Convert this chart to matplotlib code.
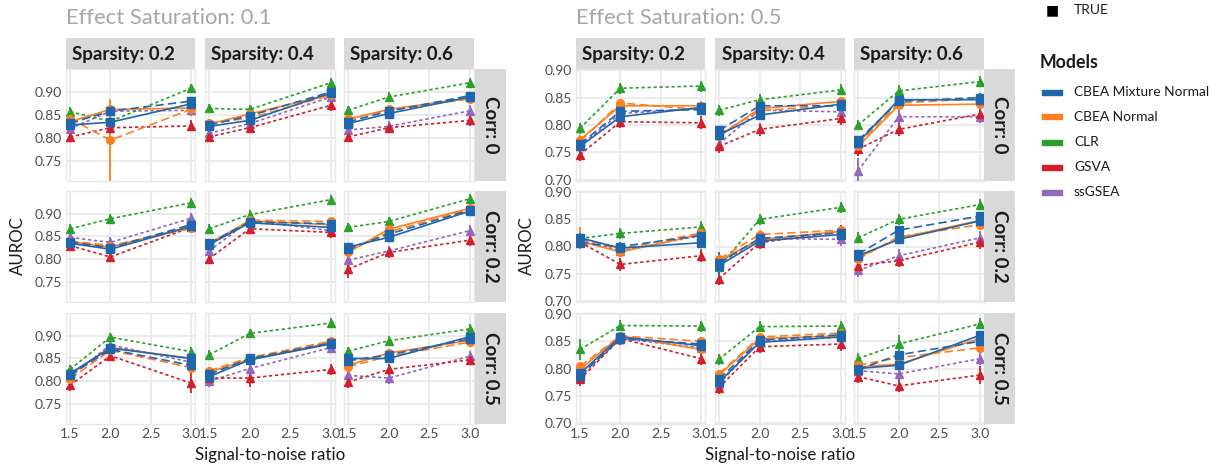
import numpy as np
import matplotlib
matplotlib.use("Agg")
import matplotlib.pyplot as plt

plt.rcParams['font.family'] = ['Lato', 'DejaVu Sans']

# axes values
snr = [1.5, 2.0, 3.0]
sparsity = ["0.2", "0.4", "0.6"]
corr = ["0", "0.2", "0.5"]
saturation = ["0.1", "0.5"]
models = ["CBEA Mixture Normal", "CBEA Normal", "CLR", "GSVA", "ssGSEA"]

# AUROC means, one row per correlation; each row holds
# sparsity 0.2 / 0.4 / 0.6 x SNR 1.5 / 2.0 / 3.0
mix_true_01 = [[0.828, 0.834, 0.874, 0.825, 0.838, 0.898, 0.831, 0.853, 0.889],
               [0.835, 0.822, 0.872, 0.832, 0.880, 0.870, 0.827, 0.848, 0.906],
               [0.817, 0.873, 0.850, 0.810, 0.847, 0.882, 0.850, 0.850, 0.898]]
mix_false_01 = [[0.832, 0.858, 0.880, 0.828, 0.848, 0.900, 0.835, 0.858, 0.892],
                [0.838, 0.825, 0.876, 0.835, 0.882, 0.878, 0.822, 0.855, 0.908],
                [0.813, 0.870, 0.835, 0.815, 0.850, 0.884, 0.845, 0.858, 0.893]]
norm_true_01 = [[0.835, 0.862, 0.865, 0.830, 0.852, 0.895, 0.840, 0.862, 0.887],
                [0.838, 0.827, 0.872, 0.835, 0.884, 0.876, 0.815, 0.866, 0.912],
                [0.815, 0.874, 0.850, 0.820, 0.848, 0.885, 0.835, 0.862, 0.890]]
norm_false_01 = [[0.842, 0.795, 0.862, 0.832, 0.843, 0.893, 0.842, 0.860, 0.885],
                 [0.840, 0.830, 0.868, 0.832, 0.886, 0.883, 0.818, 0.860, 0.910],
                 [0.805, 0.868, 0.830, 0.823, 0.852, 0.888, 0.832, 0.855, 0.886]]
clr_01 = [[0.857, 0.836, 0.908, 0.864, 0.862, 0.920, 0.860, 0.889, 0.920],
          [0.867, 0.889, 0.924, 0.867, 0.898, 0.931, 0.870, 0.883, 0.933],
          [0.826, 0.897, 0.865, 0.858, 0.905, 0.928, 0.866, 0.889, 0.915]]
gsva_01 = [[0.802, 0.822, 0.826, 0.802, 0.822, 0.871, 0.802, 0.822, 0.838],
           [0.830, 0.805, 0.870, 0.801, 0.867, 0.859, 0.778, 0.815, 0.842],
           [0.791, 0.856, 0.796, 0.807, 0.807, 0.826, 0.798, 0.826, 0.847]]
ssgsea_01 = [[0.820, 0.858, 0.860, 0.810, 0.831, 0.889, 0.817, 0.825, 0.859],
             [0.848, 0.837, 0.890, 0.818, 0.885, 0.863, 0.798, 0.818, 0.863],
             [0.810, 0.880, 0.842, 0.800, 0.828, 0.874, 0.813, 0.807, 0.855]]

mix_true_05 = [[0.761, 0.815, 0.832, 0.782, 0.818, 0.838, 0.768, 0.846, 0.846],
               [0.816, 0.797, 0.807, 0.765, 0.810, 0.822, 0.783, 0.813, 0.847],
               [0.791, 0.858, 0.842, 0.775, 0.848, 0.858, 0.800, 0.806, 0.861]]
mix_false_05 = [[0.765, 0.825, 0.828, 0.790, 0.835, 0.835, 0.772, 0.843, 0.850],
                [0.806, 0.800, 0.820, 0.770, 0.815, 0.825, 0.786, 0.830, 0.856],
                [0.787, 0.855, 0.845, 0.780, 0.852, 0.862, 0.798, 0.825, 0.850]]
norm_true_05 = [[0.773, 0.835, 0.835, 0.780, 0.830, 0.843, 0.761, 0.836, 0.838],
                [0.810, 0.790, 0.822, 0.775, 0.812, 0.828, 0.780, 0.815, 0.848],
                [0.798, 0.860, 0.835, 0.788, 0.855, 0.860, 0.803, 0.808, 0.855]]
norm_false_05 = [[0.770, 0.840, 0.828, 0.783, 0.826, 0.836, 0.765, 0.840, 0.848],
                 [0.815, 0.795, 0.825, 0.777, 0.822, 0.830, 0.777, 0.818, 0.840],
                 [0.804, 0.860, 0.850, 0.790, 0.858, 0.865, 0.806, 0.820, 0.838]]
clr_05 = [[0.794, 0.867, 0.871, 0.827, 0.846, 0.864, 0.800, 0.862, 0.879],
          [0.815, 0.824, 0.836, 0.762, 0.850, 0.872, 0.816, 0.850, 0.877],
          [0.835, 0.879, 0.878, 0.817, 0.877, 0.878, 0.818, 0.845, 0.882]]
gsva_05 = [[0.746, 0.806, 0.804, 0.761, 0.792, 0.812, 0.756, 0.792, 0.820],
           [0.808, 0.767, 0.783, 0.741, 0.807, 0.828, 0.765, 0.774, 0.808],
           [0.780, 0.855, 0.818, 0.765, 0.840, 0.845, 0.785, 0.768, 0.788]]
ssgsea_05 = [[0.762, 0.821, 0.830, 0.766, 0.827, 0.824, 0.717, 0.815, 0.815],
             [0.812, 0.792, 0.820, 0.768, 0.815, 0.813, 0.756, 0.783, 0.816],
             [0.785, 0.855, 0.838, 0.772, 0.850, 0.858, 0.796, 0.790, 0.818]]

# usual half-width of the error bars per line, plus the larger ones
err_typical = [0.008, 0.008, 0.008, 0.008, 0.010, 0.012, 0.012]
err_large = {
    ("0.1", 0, 0, 3, 1): 0.09,
    ("0.1", 0, 0, 4, 1): 0.03,
    ("0.1", 2, 0, 5, 2): 0.022,
    ("0.1", 2, 1, 5, 1): 0.02,
    ("0.1", 1, 2, 5, 0): 0.02,
    ("0.5", 0, 2, 6, 0): 0.022,
    ("0.5", 1, 1, 0, 0): 0.025,
    ("0.5", 1, 0, 3, 0): 0.02,
    ("0.5", 2, 0, 4, 0): 0.02,
    ("0.5", 2, 2, 5, 2): 0.016,
    ("0.5", 2, 2, 4, 1): 0.016,
}

blue, orange, green, red, purple = "#2066AC", "#FF7F1E", "#2CA02C", "#D11F2C", "#9467BD"

# (data per saturation, colour, line dashes, marker)
lines = [
    ({"0.1": mix_true_01, "0.5": mix_true_05}, blue, None, "s"),
    ({"0.1": mix_false_01, "0.5": mix_false_05}, blue, (5, 2.5), "s"),
    ({"0.1": norm_true_01, "0.5": norm_true_05}, orange, None, "o"),
    ({"0.1": norm_false_01, "0.5": norm_false_05}, orange, (5, 2.5), "o"),
    ({"0.1": clr_01, "0.5": clr_05}, green, (2, 1.6), "^"),
    ({"0.1": gsva_01, "0.5": gsva_05}, red, (2, 1.6), "^"),
    ({"0.1": ssgsea_01, "0.5": ssgsea_05}, purple, (2, 1.6), "^"),
]
draw_order = [6, 5, 4, 3, 2, 1, 0]

W, H = 1219, 467
fig = plt.figure(figsize=(W / 100, H / 100), dpi=100)


def box(x0, y0, x1, y1, **kw):
    return fig.add_axes([x0 / W, 1 - y1 / H, (x1 - x0) / W, (y1 - y0) / H], **kw)


strip_col = "#D9D9D9"
grid_col = "#E8E8E8"
tick_col = "#4D4D4D"

col_x = {"0.1": [(66, 195), (205, 335), (344, 474)],
         "0.5": [(576, 705), (715, 845), (854, 984)]}
strip_x = {"0.1": (475, 506), "0.5": (984, 1015)}
row_y = [(69, 181), (191, 302), (313, 424)]
ylims = {"0.1": (0.706, 0.95), "0.5": (0.698, 0.902)}
yticks = {"0.1": [0.75, 0.80, 0.85, 0.90], "0.5": [0.70, 0.75, 0.80, 0.85, 0.90]}

for es in saturation:
    cols = col_x[es]
    for r in range(3):
        y0, y1 = row_y[r]
        for c in range(3):
            x0, x1 = cols[c]
            ax = box(x0, y0, x1, y1)
            ax.set_xlim(1.45, 3.05)
            ax.set_ylim(*ylims[es])
            ax.set_xticks([1.5, 2.0, 2.5, 3.0])
            ax.set_yticks(yticks[es])
            ax.grid(True, color=grid_col, linewidth=1.2)
            ax.set_axisbelow(True)
            for sp in ax.spines.values():
                sp.set_color(grid_col)
                sp.set_linewidth(1.0)
            ax.tick_params(length=0, labelsize=10, labelcolor=tick_col, pad=3)
            if c == 0:
                ax.set_yticklabels(["%.2f" % v for v in yticks[es]])
            else:
                ax.set_yticklabels([])
            if r == 2:
                ax.set_xticklabels(["1.5", "2.0", "2.5", "3.0"])
            else:
                ax.set_xticklabels([])

            for k in draw_order:
                data, colr, dash, mk = lines[k]
                vals = data[es][r][c * 3:(c + 1) * 3]
                errs = [err_large.get((es, r, c, k, i), err_typical[k]) for i in range(3)]
                ax.errorbar(snr, vals, yerr=errs, fmt="none", ecolor=colr,
                            elinewidth=1.3, capsize=0, zorder=2)
                ln, = ax.plot(snr, vals, color=colr, linewidth=1.2, marker=mk,
                              markersize=5.5, zorder=3)
                if dash is not None:
                    ln.set_dashes(dash)

        # correlation strip on the right of each row
        sx0, sx1 = strip_x[es]
        st = box(sx0, y0, sx1, y1, facecolor=strip_col)
        st.set_xticks([])
        st.set_yticks([])
        for sp in st.spines.values():
            sp.set_visible(False)
        st.text(0.5, 0.5, "Corr: " + corr[r], rotation=-90, ha="center", va="center",
                fontsize=13.5, fontweight="bold", color="#1A1A1A", transform=st.transAxes)

    # sparsity strips on top
    for c in range(3):
        x0, x1 = cols[c]
        st = box(x0, 38, x1, 69, facecolor=strip_col)
        st.set_xticks([])
        st.set_yticks([])
        for sp in st.spines.values():
            sp.set_visible(False)
        st.text(0.05, 0.48, "Sparsity: " + sparsity[c], ha="left", va="center",
                fontsize=13.5, fontweight="bold", color="#1A1A1A", transform=st.transAxes)

    left = cols[0][0]
    fig.text(left / W, 1 - 18 / H, "Effect Saturation: " + es, fontsize=15.8,
             color="#A6A6A6", ha="left", va="center")
    ylab_x = 18 if es == "0.1" else 527
    fig.text(ylab_x / W, 1 - 246 / H, "AUROC", rotation=90, fontsize=12.2,
             ha="center", va="center", color="#1A1A1A")
    mid = (cols[1][0] + cols[1][1]) / 2
    fig.text(mid / W, 1 - 455 / H, "Signal-to-noise ratio", fontsize=12.2,
             ha="center", va="center", color="#1A1A1A")

# legends
fig.text(1052 / W, 1 - 10 / H, "\u25A0", fontsize=10, ha="center", va="center", color="black")
fig.text(1074 / W, 1 - 10 / H, "TRUE", fontsize=10, ha="left", va="center", color="#1A1A1A")
fig.text(1040 / W, 1 - 63 / H, "Models", fontsize=12.8, fontweight="bold",
         ha="left", va="center", color="#1A1A1A")
model_cols = [blue, orange, green, red, purple]
for i, (name, colr) in enumerate(zip(models, model_cols)):
    yy = 92 + 25 * i
    fig.add_artist(plt.Rectangle((1042 / W, 1 - (yy + 2.5) / H), 20 / W, 5 / H,
                                 color=colr, transform=fig.transFigure))
    fig.text(1074 / W, 1 - yy / H, name, fontsize=9.9, ha="left", va="center",
             color="#1A1A1A")

fig.savefig("out.png", dpi=100)
